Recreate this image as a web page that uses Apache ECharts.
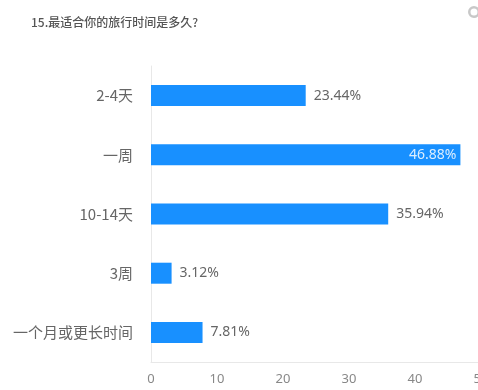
<!DOCTYPE html>
<html><head><meta charset="utf-8">
<script src="https://cdn.jsdelivr.net/npm/echarts@6/dist/echarts.min.js"></script>
<style>html,body{margin:0;padding:0;background:#fff}#c{width:478px;height:390px}</style>
</head><body><div id="c"></div>
<script>
const titleText = "15.最适合你的旅行时间是多久?";
const categories = ["2-4天", "一周", "10-14天", "3周", "一个月或更长时间"];
const values = [23.44, 46.88, 35.94, 3.12, 7.81];
const xTicks = [0, 10, 20, 30, 40, 50];

const chart = echarts.init(document.getElementById('c'));
chart.setOption({
  animation: false,
  title: {text: titleText, left: 26, top: 11, textStyle: {fontSize: 12, fontWeight: 500, color: '#555', fontFamily: 'Noto Sans CJK SC'}},
  graphic: [{type: 'ring', shape: {cx: 474, cy: 12, r: 6, r0: 3.5}, style: {fill: '#c8c8c8'}}],
  grid: {left: 151, width: 330, top: 66, bottom: 28, containLabel: false, outerBoundsMode: 'none'},
  xAxis: {type: 'value', min: xTicks[0], max: xTicks[xTicks.length-1], interval: 10,
    axisLine: {show: true, lineStyle: {color: '#e8e8e8'}},
    axisTick: {show: false}, splitLine: {show: false},
    axisLabel: {color: '#888', fontSize: 13, margin: 11, fontFamily: 'Noto Sans'}},
  yAxis: {type: 'category', data: categories, inverse: true,
    axisLine: {show: true, lineStyle: {color: '#e8e8e8'}},
    axisTick: {show: false},
    axisLabel: {color: '#666', fontSize: 15, margin: 18, fontFamily: 'Noto Sans CJK SC'}},
  series: [{type: 'bar', data: values.map((v, i) => ({
      value: v,
      label: i === 1 ? {position: 'insideRight', color: '#dceeff', distance: 4} : {}
    })),
    barWidth: 21, itemStyle: {color: '#1890ff'},
    label: {show: true, position: 'right', distance: 8, color: '#666', fontSize: 14, fontFamily: 'Noto Sans',
      formatter: p => p.value.toFixed(2) + '%'}}]
});
</script></body></html>
